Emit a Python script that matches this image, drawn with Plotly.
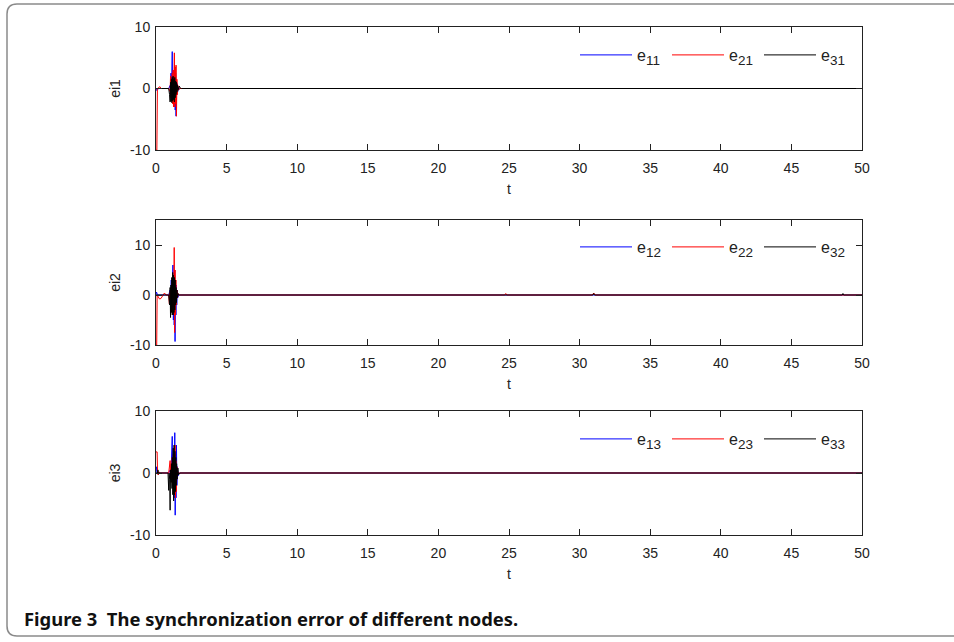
import plotly.graph_objects as go

W, H = 954, 642

# ---------------- data ----------------
# Panel 1: ei1
t_e11 = [0, 0.04, 0.1, 0.2, 0.9, 1.0, 1.03, 1.06, 1.09, 1.12, 1.15, 1.18, 1.21, 1.24, 1.27, 1.30, 1.33, 1.36, 1.39, 1.42, 1.45, 1.48, 1.51, 1.54, 1.58, 1.62, 1.7, 50]
e11 = [0, -0.3, -0.2, 0, 0, 0.5, -1.0, 2.5, -1.5, 4.0, 6.0, -2.0, 3.0, -2.5, 2.0, -3.0, 3.0, -3.5, 2.5, -4.5, 1.5, -1.0, 0.8, -0.5, 0.3, -0.1, 0, 0]

t_e21 = [0, 0.06, 0.1, 0.2, 0.28, 0.35, 0.9, 1.0, 1.03, 1.06, 1.09, 1.12, 1.15, 1.18, 1.21, 1.24, 1.27, 1.30, 1.33, 1.36, 1.39, 1.42, 1.45, 1.48, 1.51, 1.55, 1.6, 1.7, 50]
e21 = [-10, -10, 0, 0.1, 0.3, 0, 0, -0.5, 2.0, -1.5, 1.5, -2.0, 2.5, -2.5, 3.0, -3.0, 4.5, 5.8, -3.0, 3.5, -2.5, 3.8, -4.5, 1.5, -1.0, 0.5, -0.2, 0, 0]

t_e31 = [0, 0.9, 0.96, 1.0, 1.03, 1.06, 1.09, 1.12, 1.15, 1.18, 1.21, 1.24, 1.27, 1.30, 1.33, 1.36, 1.39, 1.42, 1.45, 1.48, 1.51, 1.55, 1.6, 1.65, 1.7, 1.8, 50]
e31 = [0, 0, -1.0, -2.2, 1.0, -2.0, 1.5, -2.3, 1.8, -2.0, 2.0, -1.8, 1.5, -2.2, 1.8, -1.5, 1.2, -1.0, 1.0, -0.6, 0.6, -0.3, 0.3, 0.4, 0.1, 0, 0]

# Panel 2: ei2
t_e12 = [0, 0.03, 0.08, 0.15, 0.9, 1.0, 1.04, 1.08, 1.12, 1.16, 1.2, 1.23, 1.26, 1.29, 1.32, 1.35, 1.38, 1.41, 1.44, 1.47, 1.5, 1.55, 1.6, 50]
e12 = [0, 0.6, 0.3, 0, 0, 1.0, -2.0, 3.0, -3.0, 4.5, 6.0, -5.0, 4.0, -6.0, 5.0, -9.3, 3.0, -4.0, 2.0, -2.0, 1.0, -0.5, 0, 0]

t_e22 = [0, 0.05, 0.08, 0.15, 0.25, 0.35, 0.45, 0.55, 0.6, 0.7, 0.9, 0.95, 0.98, 1.02, 1.06, 1.1, 1.14, 1.18, 1.22, 1.26, 1.29, 1.32, 1.35, 1.38, 1.41, 1.44, 1.48, 1.52, 1.56, 1.6, 24.7, 24.77, 24.84, 30.9, 31.0, 31.1, 50]
e22 = [-10, -10, 0, -0.4, -0.8, -0.7, -0.3, 0.2, 0.4, 0, 0, -1.8, 0.5, -1.0, 1.5, -2.0, 2.5, -3.0, 3.0, -3.5, 9.5, -7.5, 5.0, -4.0, 3.0, -2.0, 1.0, -0.6, 0.3, 0, 0, 0.3, 0, 0, 0.4, 0, 0]

t_e32 = [0, 0.9, 0.96, 1.0, 1.03, 1.06, 1.09, 1.12, 1.15, 1.18, 1.21, 1.24, 1.27, 1.30, 1.33, 1.36, 1.39, 1.42, 1.45, 1.48, 1.52, 1.56, 1.6, 30.95, 31.0, 31.05, 48.6, 48.65, 48.7, 50]
e32 = [0, 0, -2.0, 1.5, -4.5, 2.0, -3.5, 3.5, -4.0, 4.5, -4.0, 4.0, -3.5, 3.5, -3.0, 3.0, -2.0, 1.5, -1.5, 1.0, -0.5, 0.3, 0, 0, 0.3, 0, 0, 0.3, 0, 0]

# Panel 3: ei3
t_e13 = [0, 0.03, 0.07, 0.12, 0.9, 1.0, 1.05, 1.1, 1.15, 1.18, 1.21, 1.24, 1.27, 1.30, 1.33, 1.36, 1.39, 1.42, 1.45, 1.48, 1.52, 1.56, 1.6, 50]
e13 = [0, 1.0, 0.5, 0, 0, 0.5, -1.0, 2.0, 5.9, -2.0, 3.0, -3.0, 3.5, -4.0, 6.5, -6.8, 3.0, -4.0, 4.5, -2.0, 1.0, -0.5, 0, 0]

t_e23 = [0, 0.08, 0.11, 0.15, 0.2, 0.25, 0.9, 1.0, 1.03, 1.07, 1.11, 1.15, 1.19, 1.23, 1.27, 1.31, 1.35, 1.38, 1.41, 1.44, 1.48, 1.52, 1.56, 50]
e23 = [3.4, 3.4, 0, -0.3, 0.2, 0, 0, 2.0, -1.0, 1.5, -1.5, 2.5, -2.0, 3.0, -2.5, 3.5, 4.5, -4.0, 2.0, -3.0, 1.0, -0.5, 0, 0]

t_e33 = [0, 0.1, 0.14, 0.18, 0.22, 0.85, 0.9, 0.93, 0.97, 1.0, 1.03, 1.07, 1.1, 1.13, 1.16, 1.19, 1.22, 1.25, 1.28, 1.31, 1.34, 1.37, 1.4, 1.43, 1.46, 1.5, 1.55, 1.6, 1.7, 50]
e33 = [0, 0, 0.5, -0.2, 0, 0, -2.8, 0, -1.0, -6.0, 0.5, -1.5, 1.5, -2.5, 2.5, -3.5, 4.0, -4.5, 4.5, -3.5, 3.5, -3.0, 2.5, -2.0, 1.5, -1.0, 0.8, -0.3, 0, 0]

x_ticks = [0, 5, 10, 15, 20, 25, 30, 35, 40, 45, 50]
x_tick_labels = ["0", "5", "10", "15", "20", "25", "30", "35", "40", "45", "50"]
y_ticks = [-10, 0, 10]
y_tick_labels = ["-10", "0", "10"]
y_titles = ["ei1", "ei2", "ei3"]
x_title = "t"
y_ranges = [[-10, 10], [-10, 15], [-10, 10]]
legend_names = [["11", "21", "31"], ["12", "22", "32"], ["13", "23", "33"]]
caption = "<b>Figure 3  The synchronization error of different nodes.</b>"

panels = [
    [(t_e11, e11), (t_e21, e21), (t_e31, e31)],
    [(t_e12, e12), (t_e22, e22), (t_e32, e32)],
    [(t_e13, e13), (t_e23, e23), (t_e33, e33)],
]
colors = ["#0000ff", "#ff0000", "#000000"]

# ---------------- layout geometry (pixels) ----------------
x_left, x_right = 156, 862
panel_px = [(27, 150), (220, 345), (411, 535)]
legend_y_px = [55, 247, 439]

def py(y):
    return 1 - y / H

def sub_label(idx):
    return f'e<sub><span style="font-size:13.5px">{idx}</span></sub>'

fig = go.Figure()
legend_ids = ["legend", "legend2", "legend3"]
AX_FONT = "Liberation Sans, Arial, sans-serif"
tick_font = dict(family=AX_FONT, size=14, color="#222")
layout = dict(
    width=W, height=H,
    margin=dict(l=0, r=0, t=0, b=0),
    paper_bgcolor="white", plot_bgcolor="white",
    font=tick_font,
    showlegend=True,
)

for i, series in enumerate(panels):
    xa = "x" if i == 0 else f"x{i+1}"
    ya = "y" if i == 0 else f"y{i+1}"
    for j, (tt, vv) in enumerate(series):
        fig.add_trace(go.Scatter(
            x=tt, y=vv, mode="lines", name=sub_label(legend_names[i][j]),
            line=dict(color=colors[j], width=1),
            xaxis=xa, yaxis=ya, legend=legend_ids[i],
        ))
    top, bot = panel_px[i]
    xkey = "xaxis" if i == 0 else f"xaxis{i+1}"
    ykey = "yaxis" if i == 0 else f"yaxis{i+1}"
    layout[xkey] = dict(
        domain=[x_left / W, x_right / W], anchor=ya, range=[0, 50],
        tickvals=x_ticks, ticktext=x_tick_labels,
        ticks="inside", ticklen=6, tickcolor="#222",
        showline=True, linecolor="#222", linewidth=1, mirror="ticks",
        showgrid=False, zeroline=False, tickfont=tick_font,
        ticklabelstandoff=5, automargin=False,
        title=dict(text=x_title, font=tick_font, standoff=9),
    )
    layout[ykey] = dict(
        domain=[py(bot), py(top)], anchor=xa, range=y_ranges[i],
        tickvals=y_ticks, ticktext=y_tick_labels,
        ticks="inside", ticklen=6, tickcolor="#222",
        showline=True, linecolor="#222", linewidth=1, mirror="ticks",
        showgrid=False, zeroline=False, tickfont=tick_font,
        ticklabelstandoff=2, automargin=False,
        title=dict(text=y_titles[i], font=tick_font, standoff=6),
    )
    layout[legend_ids[i]] = dict(
        orientation="h", x=575 / W, y=py(legend_y_px[i]),
        xanchor="left", yanchor="middle", bgcolor="rgba(0,0,0,0)",
        font=dict(family=AX_FONT, size=16, color="#222"),
        itemwidth=52, entrywidth=25, entrywidthmode="pixels",
        itemclick=False, itemdoubleclick=False,
    )

fig.update_layout(**layout)

# outer rounded frame
fx0, fy0, fy1, r = 7, 4, 636, 10
path = (f"M {970/W},{py(fy0)} L {(fx0+r)/W},{py(fy0)} "
        f"Q {fx0/W},{py(fy0)} {fx0/W},{py(fy0+r)} "
        f"L {fx0/W},{py(fy1-r)} Q {fx0/W},{py(fy1)} {(fx0+r)/W},{py(fy1)} "
        f"L {970/W},{py(fy1)}")
fig.add_shape(type="path", path=path, xref="paper", yref="paper",
              line=dict(color="#8a8a8a", width=1.5))

fig.add_annotation(text=caption, xref="paper", yref="paper",
                   x=22 / W, y=py(618), xanchor="left", yanchor="middle",
                   showarrow=False,
                   font=dict(family="Noto Sans, Open Sans, sans-serif", size=18.4, color="#111"))

fig.write_html("out.html", config={"displayModeBar": False},
               post_script="document.body.style.margin='0';")
